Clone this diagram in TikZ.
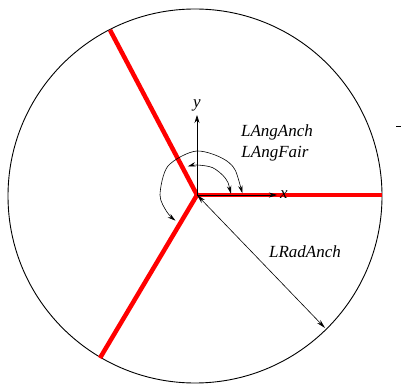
\documentclass[tikz,border=0pt]{standalone}
\usepackage{fontspec}
\setmainfont{Liberation Serif}
\usetikzlibrary{arrows.meta, positioning}
\definecolor{legred}{RGB}{255, 0, 0}
\tikzset{
  mooring leg/.style={
    draw=legred,
    line width=4.5pt
  },
  boundary/.style={
    draw=black,
    line width=0.9pt
  },
  axis line/.style={
    -{Stealth[length=8pt, width=5pt]},
    line width=0.6pt
  },
  angle arc/.style={
    {Stealth[length=8pt, width=4.5pt]}-{Stealth[length=8pt, width=4.5pt]},
    line width=0.6pt
  },
  radius line/.style={
    {Stealth[length=9pt, width=4.5pt]}-{Stealth[length=9pt, width=4.5pt]},
    line width=0.6pt
  },
  label text/.style={
    font=\fontsize{17}{20}\selectfont\itshape,
    inner sep=0pt
  }
}

\begin{document}
\begin{tikzpicture}[x=1pt, y=1pt]
          \useasboundingbox (0, 0) rectangle (403, 385);
          \coordinate (ctr) at (195, 189);
          \coordinate (orig) at (197, 190);
          \coordinate (legR) at (382, 190);
          \coordinate (legU) at (110, 355);
          \coordinate (legL) at (100, 27);
          \coordinate (ytip) at (197, 270);
          \coordinate (xtip) at (277, 190);
          \coordinate (radend) at (325, 57);

          % watch circle and the three legs
          \draw[boundary] (ctr) circle (187);
          \draw[mooring leg] (orig) -- (legR);
          \draw[mooring leg] (orig) -- (legU);
          \draw[mooring leg] (orig) -- (legL);

          % axes
          \draw[axis line] (orig) -- (ytip);
          \draw[axis line] (orig) -- (xtip);
          \node[label text, above=4pt of ytip] (ylbl) {y};
          \node[label text, right=3pt of xtip] (xlbl) {x};

          % angles
          \draw[angle arc, shift={(orig)}] plot[smooth] coordinates
            {(2:34) (30:33) (60:31.5) (90:30) (108:30)};
          \draw[angle arc, shift={(orig)}] plot[smooth] coordinates
            {(2:45.5) (45:45.5) (90:44) (135:41) (180:37) (210:34.5) (230:33.5)};
          \node[label text] (anch) at (277, 253) {LAngAnch};
          \node[label text] (fair) at (275, 231) {LAngFair};

          % radius
          \draw[radius line] (orig) -- (radend);
          \node[label text] (rad) at (305, 133) {LRadAnch};

          \coordinate (dashA) at (396, 259);
          \coordinate (dashB) at (401, 259);
          \draw[line width=0.6pt] (dashA) -- (dashB);
        \end{tikzpicture}
\end{document}
